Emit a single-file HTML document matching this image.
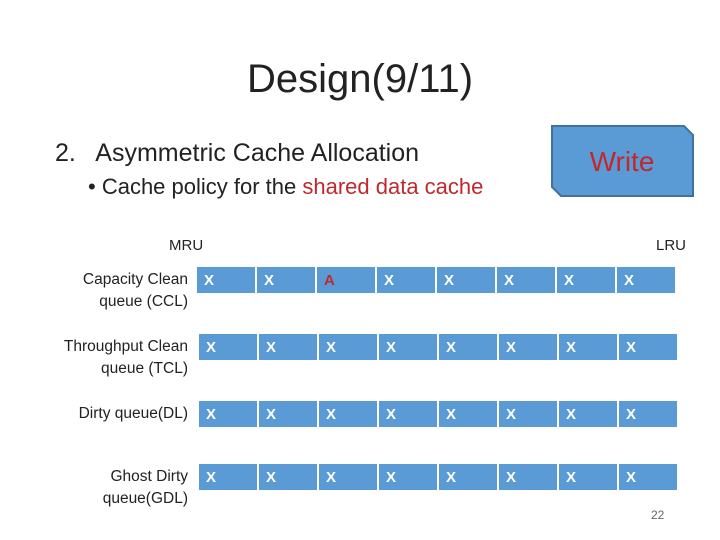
<!DOCTYPE html>
<html><head><style>
body{margin:0;width:720px;height:540px;background:#fff;position:relative;font-family:"Liberation Sans",sans-serif;overflow:hidden}
.t{position:absolute;white-space:nowrap}
.row{position:absolute;left:197px;height:26px;display:flex}
.c{width:58px;height:26px;margin-right:2px;background:#5b9bd5;color:#fff;font-size:15px;line-height:28px;padding-left:7px;box-sizing:border-box;font-weight:bold}
.lab{position:absolute;font-size:15.5px;color:#222;text-align:right;right:532px;line-height:22px}
</style></head><body>
<div class="t" style="left:247px;top:57px;font-size:40px;color:#222">Design(9/11)</div>
<div class="t" style="left:55px;top:139px;font-size:25px;color:#222">2.&nbsp;&nbsp; Asymmetric Cache Allocation</div>
<div class="t" style="left:88px;top:174px;font-size:22px;color:#222">• Cache policy for the <span style="color:#c0282d">shared data cache</span></div>
<svg style="position:absolute;left:0;top:0" width="720" height="540">
<polygon points="552,126 684,126 693,135 693,196 561,196 552,187" fill="#5b9bd5" stroke="#41719c" stroke-width="2"/>
<text x="622" y="171" font-size="28" fill="#c0282d" text-anchor="middle" font-family="Liberation Sans,sans-serif">Write</text>
</svg>
<div class="t" style="left:169px;top:237px;font-size:15px;color:#222">MRU</div>
<div class="t" style="left:656px;top:237px;font-size:15px;color:#222">LRU</div>
<div class="lab" style="top:269px">Capacity Clean<br>queue (CCL)</div>
<div class="lab" style="top:336px">Throughput Clean<br>queue (TCL)</div>
<div class="lab" style="top:403px">Dirty queue(DL)</div>
<div class="lab" style="top:466px">Ghost Dirty<br>queue(GDL)</div>
<div class="row" style="top:267px"><div class="c">X</div><div class="c">X</div><div class="c" style="color:#c0282d">A</div><div class="c">X</div><div class="c">X</div><div class="c">X</div><div class="c">X</div><div class="c">X</div></div>
<div class="row" style="top:334px;left:199px"><div class="c">X</div><div class="c">X</div><div class="c">X</div><div class="c">X</div><div class="c">X</div><div class="c">X</div><div class="c">X</div><div class="c">X</div></div>
<div class="row" style="top:401px;left:199px"><div class="c">X</div><div class="c">X</div><div class="c">X</div><div class="c">X</div><div class="c">X</div><div class="c">X</div><div class="c">X</div><div class="c">X</div></div>
<div class="row" style="top:464px;left:199px"><div class="c">X</div><div class="c">X</div><div class="c">X</div><div class="c">X</div><div class="c">X</div><div class="c">X</div><div class="c">X</div><div class="c">X</div></div>
<div class="t" style="left:651px;top:508px;font-size:12px;color:#666">22</div>
</body></html>
